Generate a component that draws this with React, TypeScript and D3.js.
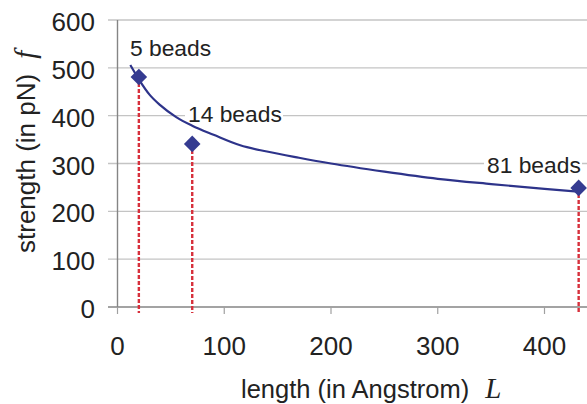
import React from "react";
import * as d3 from "d3";

const W = 587;
const H = 404;

// fitted curve (L in Angstrom, f in pN)
const curveL = [12, 20, 30, 40, 55, 70, 90, 115, 140, 170, 200, 250, 300, 350, 400, 432];
const curveF = [506, 476, 444, 422, 397, 379, 360, 338, 325, 312, 300, 283, 268, 257, 247, 241];

// data points
const pointLabels = ["5 beads", "14 beads", "81 beads"];
const pointL = [20, 70, 432];
const pointF = [481, 341, 249];

const yTicks = [0, 100, 200, 300, 400, 500, 600];
const xTicks = [0, 100, 200, 300, 400];

const FONT = "'Liberation Sans', Arial, sans-serif";
const SERIF = "'Liberation Serif', 'Times New Roman', serif";

export default function App() {
  const x = d3.scaleLinear().domain([0, 500]).range([117.5, 117.5 + 533.75]);
  const y = d3.scaleLinear().domain([0, 600]).range([307, 20]);

  const curveData = curveL.map((l, i) => [l, curveF[i]] as [number, number]);
  const line = d3
    .line<[number, number]>()
    .x((d) => x(d[0]))
    .y((d) => y(d[1]))
    .curve(d3.curveMonotoneX);

  const diamond = d3.symbol().type(d3.symbolDiamond2).size(175)();

  const labelBaseline = [56, 122, 173];
  const labelX = [130, 188, 487];
  const labelW = [84, 98, 98];

  return (
    <svg
      width={W}
      height={H}
      style={{ position: "absolute", left: 0, top: 0, background: "#fff" }}
      fontFamily={FONT}
    >
      <rect x={0} y={0} width={W} height={H} fill="#fff" />
      {/* gridlines */}
      {yTicks.map((t) =>
        t === 0 ? null : (
          <line
            key={"g" + t}
            x1={108}
            x2={W}
            y1={y(t)}
            y2={y(t)}
            stroke="#c4c4c4"
            strokeWidth={1.3}
          />
        )
      )}
      {/* axes */}
      <line x1={x(0)} x2={x(0)} y1={y(600)} y2={y(0)} stroke="#858585" strokeWidth={1.4} />
      <line x1={108} x2={W} y1={y(0)} y2={y(0)} stroke="#858585" strokeWidth={1.4} />
      {xTicks.map((t) => (
        <line key={"xt" + t} x1={x(t)} x2={x(t)} y1={y(0)} y2={y(0) + 7} stroke="#a0a0a0" strokeWidth={1.2} />
      ))}
      {/* y tick labels */}
      {yTicks.map((t) => (
        <text key={"yl" + t} x={95} y={y(t) + 11} textAnchor="end" fontSize={26} fill="#222">
          {t}
        </text>
      ))}
      {/* x tick labels */}
      {xTicks.map((t) => (
        <text key={"xl" + t} x={x(t)} y={355} textAnchor="middle" fontSize={26} fill="#222">
          {t}
        </text>
      ))}
      {/* label backgrounds */}
      {pointLabels.map((lab, i) => (
        <rect
          key={"bg" + i}
          x={labelX[i] - 3}
          y={labelBaseline[i] - 18}
          width={labelW[i]}
          height={22}
          fill="#fff"
        />
      ))}
      {/* dashed drop lines */}
      {pointL.map((l, i) => (
        <line
          key={"d" + i}
          x1={x(l)}
          x2={x(l)}
          y1={y(pointF[i])}
          y2={313}
          stroke="#d7303c"
          strokeWidth={2.4}
          strokeDasharray="4 2"
        />
      ))}
      {/* fitted curve */}
      <path d={line(curveData) || ""} fill="none" stroke="#2d338a" strokeWidth={2.2} />
      {/* diamonds */}
      {pointL.map((l, i) => (
        <path
          key={"p" + i}
          d={diamond || ""}
          transform={`translate(${x(l)},${y(pointF[i])})`}
          fill="#353b91"
        />
      ))}
      {/* labels */}
      {pointLabels.map((lab, i) => (
        <text key={"lab" + i} x={labelX[i]} y={labelBaseline[i]} fontSize={22.8} fill="#222">
          {lab}
        </text>
      ))}
      {/* axis titles */}
      <text x={241} y={398} fontSize={25.5} fill="#222">
        length (in Angstrom)
        <tspan fontFamily={SERIF} fontStyle="italic" fontSize={29} dx={16}>
          L
        </tspan>
      </text>
      <text transform="translate(35,253) rotate(-90)" x={0} y={0} fontSize={26} fill="#222">
        strength (in pN)
        <tspan fontFamily={SERIF} fontStyle="italic" fontSize={29} dx={15}>
          f
        </tspan>
      </text>
    </svg>
  );
}
